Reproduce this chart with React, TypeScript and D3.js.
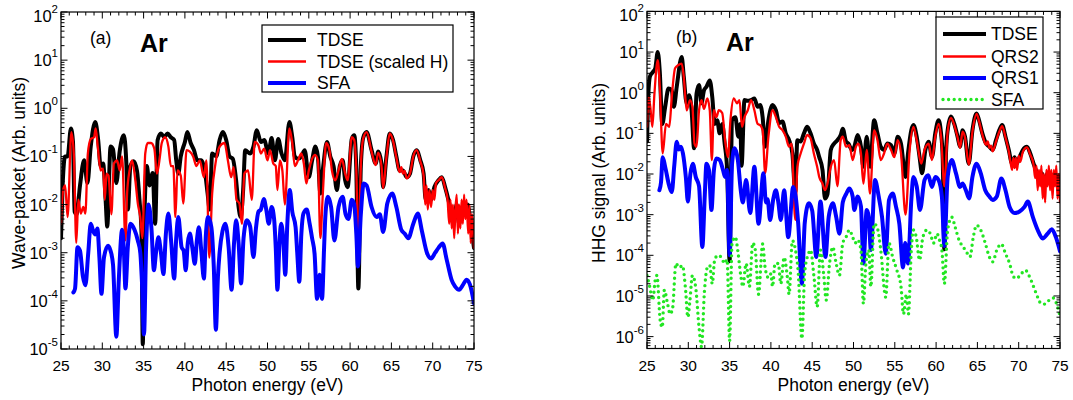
import React from "react";
import * as d3 from "d3";

type Pt = [number, number];

// ---------- axis / tick data ----------
const energyMajor = [25, 30, 35, 40, 45, 50, 55, 60, 65, 70, 75];
const energyMinor = [26, 27, 28, 29, 31, 32, 33, 34, 36, 37, 38, 39, 41, 42, 43, 44, 46, 47, 48, 49, 51, 52, 53, 54, 56, 57, 58, 59, 61, 62, 63, 64, 66, 67, 68, 69, 71, 72, 73, 74];
const decadesA = [2, 1, 0, -1, -2, -3, -4, -5];
const decadesB = [2, 1, 0, -1, -2, -3, -4, -5, -6];
const legendA = ["TDSE", "TDSE (scaled H)", "SFA"];
const legendB = ["TDSE", "QRS2", "QRS1", "SFA"];

// ---------- panel (a) ----------
const tdseA: Pt[] = [
  [25.0, 2.0e-3], [25.2, 2.5e-2], [25.5, 1.0e-1], [25.8, 1.0e-1], [26.2, 3.8e-1], [26.45, 2.0e-1], [26.65, 7.1e-3],
  [26.9, 6.3e-3], [27.3, 2.5e-2], [27.8, 8.3e-2], [28.2, 2.8e-2], [28.6, 1.6e-1], [29.15, 5.2e-1], [29.5, 2.2e-1],
  [29.8, 6.3e-2], [30.1, 7.1e-2], [30.4, 1.26e-2], [30.6, 3.5e-3], [31.0, 1.6e-1], [31.3, 1.4e-1], [31.7, 2.8e-2],
  [32.1, 1.26e-1], [32.6, 2.75e-1], [32.9, 7.9e-2], [33.1, 7.9e-3], [33.4, 6.3e-2], [33.8, 7.9e-2], [34.2, 5.0e-2],
  [34.5, 1.26e-2], [34.75, 2.5e-3], [34.9, 1.26e-5], [35.1, 5.0e-3], [35.4, 6.3e-2], [35.7, 2.5e-2], [36.1, 4.5e-2],
  [36.4, 4.0e-3], [36.7, 2.2e-1], [37.1, 3.0e-1], [37.5, 2.5e-1], [37.9, 3.0e-1], [38.3, 2.5e-1], [38.7, 2.2e-1],
  [38.95, 8.3e-2], [39.2, 4.4e-2], [39.5, 1.0e-1], [40.0, 2.0e-1], [40.3, 3.2e-1], [40.7, 1.9e-1], [41.1, 1.35e-1],
  [41.5, 8.3e-2], [42.0, 8.3e-2], [42.4, 5.1e-2], [42.75, 1.7e-2], [43.0, 7.9e-3], [43.3, 1.15e-1], [43.8, 1.0e-1],
  [44.2, 2.2e-1], [44.6, 3.2e-1], [45.0, 2.2e-1], [45.4, 1.0e-1], [45.8, 8.9e-2], [46.2, 3.2e-2], [46.5, 8.9e-3],
  [46.75, 5.5e-3], [47.05, 2.0e-2], [47.3, 1.35e-1], [47.9, 1.15e-1], [48.3, 1.6e-1], [48.7, 3.5e-1], [49.2, 2.0e-1],
  [49.6, 2.2e-1], [50.1, 1.15e-1], [50.5, 2.4e-1], [50.9, 8.3e-2], [51.3, 2.3e-1], [51.7, 1.15e-1], [52.1, 8.3e-2],
  [52.65, 5.2e-1], [53.0, 2.5e-1], [53.3, 1.0e-1], [53.7, 8.9e-2], [54.1, 1.0e-1], [54.5, 1.35e-1], [55.0, 3.7e-2],
  [55.4, 8.3e-2], [55.8, 1.6e-1], [56.1, 1.0e-1], [56.4, 1.7e-2], [56.75, 6.3e-2], [57.2, 2.0e-1], [57.6, 1.0e-1],
  [58.0, 6.3e-2], [58.4, 2.0e-2], [58.75, 6.3e-2], [59.1, 8.3e-2], [59.4, 3.2e-2], [59.7, 2.3e-2], [60.2, 2.3e-1],
  [60.5, 2.75e-1], [60.75, 5.6e-2], [61.0, 1.8e-4], [61.3, 6.3e-2], [61.6, 2.5e-1], [62.0, 3.2e-1], [62.6, 1.35e-1],
  [63.1, 7.1e-2], [63.4, 1.26e-1], [63.8, 7.1e-2], [64.0, 2.3e-2], [64.4, 1.0e-1], [64.8, 3.0e-1], [65.2, 2.2e-1],
  [65.6, 1.0e-1], [66.0, 5.1e-2], [66.4, 5.1e-2], [66.85, 3.7e-2], [67.25, 4.4e-2], [67.65, 1.0e-1], [68.05, 1.35e-1],
  [68.5, 8.3e-2], [68.9, 4.4e-2], [69.15, 1.26e-2], [69.5, 2.0e-2], [69.8, 1.26e-2], [70.2, 2.3e-2], [70.7, 3.2e-2],
  [71.1, 3.7e-2], [71.5, 2.3e-2], [71.9, 1.26e-2], [72.3, 6.3e-3], [72.6, 5.0e-3], [72.9, 1.0e-2], [73.2, 4.0e-3],
  [73.5, 7.9e-3], [73.8, 6.3e-3], [74.2, 1.0e-2], [74.6, 4.0e-3], [75.0, 1.26e-3],
];

const scaledHA: Pt[] = [
  [25.0, 4.0e-3], [25.25, 2.0e-2], [25.5, 2.5e-2], [25.8, 5.5e-3], [26.25, 3.2e-1], [26.55, 1.15e-1], [26.85, 1.6e-3],
  [27.1, 1.26e-2], [27.4, 6.5e-3], [27.7, 8.9e-3], [27.95, 6.5e-3], [28.25, 1.15e-1], [28.6, 2.3e-1], [29.0, 2.5e-1],
  [29.2, 3.8e-1], [29.45, 1.6e-1], [29.8, 5.1e-2], [30.1, 5.6e-2], [30.3, 1.26e-2], [30.5, 4.4e-2], [30.75, 4.0e-2],
  [31.1, 6.3e-3], [31.4, 7.1e-2], [31.8, 8.3e-2], [32.1, 5.1e-2], [32.4, 1.0e-1], [32.8, 1.8e-3], [33.0, 1.7e-2],
  [33.3, 5.1e-2], [33.6, 8.3e-2], [34.0, 3.2e-2], [34.3, 1.05e-2], [34.6, 5.5e-3], [34.85, 2.0e-3], [35.2, 1.15e-1],
  [35.5, 1.9e-1], [35.9, 1.9e-1], [36.3, 1.45e-1], [36.6, 4.4e-2], [36.9, 7.9e-2], [37.2, 1.9e-1], [37.6, 2.5e-1],
  [38.0, 1.6e-1], [38.3, 6.3e-2], [38.6, 6.3e-2], [38.85, 5.5e-3], [39.1, 5.1e-2], [39.5, 4.0e-2], [39.8, 1.05e-2],
  [40.2, 1.35e-1], [40.6, 1.26e-1], [41.0, 1.0e-1], [41.4, 6.3e-2], [41.8, 8.3e-2], [42.3, 3.7e-2], [42.6, 8.3e-2],
  [42.95, 7.9e-4], [43.3, 1.7e-2], [43.7, 7.1e-2], [44.2, 1.6e-1], [44.8, 1.9e-1], [45.2, 8.3e-2], [45.6, 3.7e-2],
  [45.9, 6.0e-2], [46.25, 1.26e-2], [46.6, 1.05e-2], [46.9, 4.0e-3], [47.2, 4.4e-2], [47.65, 5.1e-2], [48.1, 1.26e-2],
  [48.45, 2.0e-1], [48.9, 1.7e-1], [49.2, 1.15e-1], [49.6, 1.45e-1], [50.0, 8.3e-2], [50.3, 1.35e-1], [50.7, 7.1e-2],
  [51.0, 6.3e-2], [51.2, 2.0e-2], [51.5, 8.3e-2], [51.8, 5.1e-2], [52.1, 1.0e-2], [52.65, 3.8e-1], [53.0, 1.9e-1],
  [53.3, 6.3e-2], [53.7, 8.3e-2], [54.1, 1.15e-1], [54.4, 7.1e-2], [54.7, 2.75e-2], [55.0, 5.1e-2], [55.75, 1.07e-1],
  [56.1, 8.3e-2], [56.4, 2.0e-3], [56.7, 1.7e-2], [57.1, 1.9e-1], [57.5, 1.35e-1], [57.8, 5.1e-2], [58.2, 3.2e-2],
  [58.6, 5.1e-2], [59.0, 8.9e-2], [59.4, 4.4e-2], [59.7, 3.2e-2], [60.2, 2.5e-1], [60.5, 2.2e-1], [60.75, 5.1e-2],
  [61.0, 1.0e-3], [61.3, 6.3e-2], [61.6, 2.4e-1], [62.0, 3.2e-1], [62.6, 1.26e-1], [63.1, 6.6e-2], [63.4, 1.2e-1],
  [63.8, 6.3e-2], [64.0, 2.2e-2], [64.4, 9.5e-2], [64.8, 3.0e-1], [65.2, 2.1e-1], [65.6, 9.5e-2], [66.0, 4.7e-2],
  [66.2, 6.0e-2], [66.4, 4.4e-2], [66.6, 5.0e-2], [66.85, 3.5e-2], [67.25, 4.4e-2], [67.65, 1.0e-1], [68.05, 1.35e-1],
  [68.5, 7.9e-2], [68.9, 4.0e-2], [69.1, 1.0e-2], [69.25, 2.5e-2], [69.4, 7.9e-3], [69.6, 2.0e-2], [69.8, 8.9e-3],
  [70.0, 2.0e-2], [70.2, 1.26e-2], [70.4, 2.8e-2], [70.7, 3.2e-2], [71.1, 3.7e-2], [71.5, 2.2e-2], [71.8, 1.26e-2],
  [72.0, 4.0e-3], [72.15, 1.26e-2], [72.3, 3.2e-3], [72.45, 1.0e-2], [72.6, 2.0e-3], [72.75, 7.9e-3], [72.9, 1.6e-2],
  [73.05, 2.5e-3], [73.2, 1.0e-2], [73.35, 3.2e-3], [73.5, 1.26e-2], [73.65, 4.0e-3], [73.8, 1.6e-2], [73.95, 5.0e-3],
  [74.1, 1.26e-2], [74.3, 2.5e-3], [74.45, 1.0e-2], [74.6, 1.6e-3], [74.75, 6.3e-3], [74.9, 3.2e-3], [75.0, 1.26e-3],
];

const sfaA: Pt[] = [
  [26.5, 1.5e-4], [26.7, 1.8e-4], [27.0, 1.3e-3], [27.3, 1.1e-3], [27.65, 3.2e-4], [27.95, 2.1e-4], [28.3, 1.0e-3],
  [28.6, 4.0e-3], [28.9, 2.8e-3], [29.15, 2.4e-3], [29.4, 3.2e-3], [29.65, 7.9e-4], [29.9, 1.4e-4], [30.2, 7.9e-4],
  [30.7, 1.4e-3], [31.0, 1.1e-3], [31.3, 5.6e-4], [31.7, 1.8e-5], [32.0, 2.8e-4], [32.4, 3.0e-3], [32.6, 1.26e-3],
  [32.8, 1.8e-4], [33.1, 1.4e-3], [33.4, 4.0e-3], [33.9, 3.0e-3], [34.3, 1.8e-3], [34.6, 1.0e-3], [34.8, 2.5e-4],
  [35.05, 2.0e-5], [35.3, 1.26e-3], [35.6, 1.0e-2], [35.95, 3.2e-3], [36.25, 4.3e-4], [36.5, 1.0e-3], [36.8, 2.1e-3],
  [37.1, 1.0e-3], [37.4, 3.6e-4], [37.7, 2.5e-3], [38.0, 6.5e-3], [38.35, 1.6e-3], [38.7, 2.9e-4], [38.95, 2.0e-3],
  [39.2, 5.5e-3], [39.6, 1.3e-3], [39.85, 1.1e-3], [40.1, 4.3e-4], [40.35, 1.6e-3], [40.6, 2.5e-3], [40.9, 1.26e-3],
  [41.2, 5.9e-4], [41.45, 1.8e-3], [41.7, 3.4e-3], [42.0, 1.0e-3], [42.3, 2.9e-4], [42.55, 2.5e-3], [42.8, 5.5e-3],
  [43.2, 3.4e-3], [43.5, 5.0e-4], [43.75, 2.5e-5], [44.0, 3.2e-4], [44.2, 1.0e-3], [44.55, 2.8e-3], [44.9, 4.0e-3],
  [45.3, 1.26e-3], [45.65, 1.7e-4], [45.95, 1.6e-3], [46.2, 4.7e-3], [46.5, 1.6e-3], [46.8, 2.3e-4], [47.1, 2.0e-3],
  [47.5, 4.7e-3], [47.9, 3.5e-3], [48.3, 8.1e-4], [48.6, 3.2e-3], [48.9, 7.1e-3], [49.2, 7.9e-3], [49.55, 1.3e-2],
  [49.85, 7.9e-3], [50.15, 4.0e-3], [50.5, 8.9e-3], [50.8, 5.0e-3], [51.0, 1.26e-3], [51.2, 1.7e-4], [51.45, 1.6e-3],
  [51.65, 4.0e-3], [51.9, 2.0e-3], [52.15, 3.5e-4], [52.4, 4.0e-3], [52.7, 2.0e-2], [53.0, 7.1e-3], [53.4, 3.4e-3],
  [53.6, 1.0e-3], [53.85, 2.5e-4], [54.1, 2.5e-3], [54.35, 6.5e-3], [54.75, 7.9e-3], [55.1, 4.0e-3], [55.4, 2.0e-3],
  [55.7, 9.5e-4], [56.0, 1.1e-4], [56.3, 3.5e-4], [56.6, 1.1e-4], [56.85, 1.26e-3], [57.0, 5.5e-3], [57.3, 1.45e-2],
  [57.7, 8.9e-3], [58.1, 1.8e-3], [58.6, 8.9e-3], [59.1, 1.45e-2], [59.45, 6.3e-3], [59.8, 5.0e-3], [60.2, 1.26e-2],
  [60.5, 1.0e-2], [60.75, 2.5e-3], [60.95, 5.2e-4], [61.3, 6.3e-3], [61.65, 2.75e-2], [62.0, 2.5e-2], [62.6, 8.9e-3],
  [63.2, 5.5e-3], [63.6, 6.3e-3], [64.0, 2.7e-3], [64.5, 1.05e-2], [65.1, 1.7e-2], [65.6, 8.9e-3], [66.2, 3.0e-3],
  [66.6, 2.5e-3], [67.05, 2.0e-3], [67.65, 4.0e-3], [68.2, 6.5e-3], [68.7, 2.8e-3], [69.3, 1.0e-3], [69.8, 7.6e-4],
  [70.3, 1.0e-3], [70.7, 1.26e-3], [71.2, 1.55e-3], [71.7, 7.1e-4], [72.3, 2.7e-4], [72.7, 2.0e-4], [73.2, 1.7e-4],
  [73.7, 2.2e-4], [74.1, 2.75e-4], [74.5, 2.2e-4], [75.0, 8.9e-5],
];

// ---------- panel (b) ----------
const tdseB: Pt[] = [
  [25.0, 6.3e-2], [25.15, 7.9e-1], [25.35, 2.5], [25.7, 3.2], [26.0, 4.0], [26.3, 10], [26.55, 3.2], [26.85, 1.7e-1],
  [27.2, 4.5e-1], [27.6, 1.26], [28.0, 1.15], [28.25, 4.5e-1], [28.6, 1.4], [29.2, 7.6], [29.45, 2.5], [29.8, 5.5e-1],
  [30.1, 8.7e-1], [30.4, 3.7e-1], [30.7, 4.3e-2], [31.0, 9.5e-1], [31.3, 1.55], [31.6, 5.5e-1], [31.9, 1.15],
  [32.2, 1.4], [32.6, 2.0], [32.9, 7.9e-1], [33.2, 1.7e-1], [33.5, 2.1e-1], [33.8, 1.0e-1], [34.1, 1.7e-1],
  [34.4, 5.6e-2], [34.7, 1.26e-2], [35.0, 7.1e-5], [35.3, 2.1e-1], [35.7, 2.5e-1], [36.05, 8.3e-2], [36.3, 1.7e-1],
  [36.45, 1.6e-2], [36.8, 6.6e-1], [37.2, 6.3e-1], [37.6, 6.6e-1], [38.0, 7.2e-1], [38.4, 4.5e-1], [38.7, 5.0e-1],
  [39.0, 2.5e-1], [39.3, 4.7e-2], [39.7, 2.1e-1], [40.2, 5.0e-1], [40.6, 3.7e-1], [41.0, 1.8e-1], [41.4, 1.95e-1],
  [41.8, 1.0e-1], [42.2, 6.8e-2], [42.6, 3.2e-2], [42.95, 3.5e-3], [43.2, 6.8e-2], [43.6, 6.3e-2], [44.0, 1.0e-1],
  [44.4, 1.45e-1], [44.8, 1.0e-1], [45.2, 5.6e-2], [45.6, 3.9e-2], [45.85, 2.6e-2], [46.25, 1.26e-2], [46.55, 2.5e-3],
  [46.85, 3.2e-3], [47.25, 3.9e-2], [47.65, 5.6e-2], [48.05, 6.8e-2], [48.45, 9.1e-2], [48.7, 1.3e-1], [49.1, 6.3e-2],
  [49.4, 5.6e-2], [49.8, 3.9e-2], [50.1, 4.7e-2], [50.5, 9.1e-2], [50.9, 4.7e-2], [51.2, 1.5e-2], [51.6, 8.3e-2],
  [52.0, 1.5e-2], [52.5, 2.1e-1], [52.9, 1.0e-1], [53.3, 4.7e-2], [53.7, 3.9e-2], [54.1, 5.6e-2], [54.55, 5.1e-2],
  [54.95, 3.2e-2], [55.35, 8.3e-2], [55.75, 5.6e-2], [56.3, 8.5e-3], [56.6, 3.2e-2], [57.0, 1.2e-1], [57.25, 1.6e-1],
  [57.65, 8.3e-2], [58.0, 2.6e-2], [58.3, 1.05e-2], [58.7, 3.9e-2], [59.1, 6.2e-2], [59.5, 2.6e-2], [59.9, 1.0e-1],
  [60.3, 2.1e-1], [60.6, 1.0e-1], [60.8, 2.5e-2], [61.0, 1.4e-4], [61.2, 3.2e-2], [61.4, 1.2e-1], [61.8, 2.6e-1],
  [62.2, 1.7e-1], [62.6, 8.3e-2], [62.9, 4.7e-2], [63.2, 1.2e-1], [63.5, 8.3e-2], [63.95, 1.8e-2], [64.4, 1.2e-1],
  [64.9, 3.1e-1], [65.2, 2.1e-1], [65.6, 1.0e-1], [66.05, 5.6e-2], [66.45, 4.7e-2], [66.85, 3.9e-2], [67.25, 6.8e-2],
  [67.65, 1.2e-1], [68.0, 1.6e-1], [68.4, 8.3e-2], [68.8, 3.9e-2], [69.2, 1.8e-2], [69.5, 2.6e-2], [69.75, 1.8e-2],
  [70.1, 2.6e-2], [70.5, 3.9e-2], [71.0, 4.7e-2], [71.4, 3.2e-2], [71.8, 1.8e-2], [72.2, 1.05e-2], [72.5, 6.3e-3],
  [72.8, 1.05e-2], [73.1, 5.0e-3], [73.5, 1.05e-2], [73.9, 6.3e-3], [74.3, 1.0e-2], [74.7, 6.3e-3], [75.0, 4.0e-3],
];

const qrs2B: Pt[] = [
  [25.0, 1.45e-1], [25.2, 7.9e-1], [25.4, 4.5e-1], [25.65, 1.45e-1], [25.9, 9.5e-1], [26.3, 6.3], [26.55, 1.4],
  [26.9, 3.2e-2], [27.3, 1.7e-1], [27.7, 1.45e-1], [28.0, 7.9e-1], [28.4, 4.0], [28.8, 4.8], [29.2, 5.2], [29.45, 2.5],
  [29.8, 3.7e-1], [30.2, 6.6e-1], [30.5, 4.5e-1], [30.75, 5.6e-2], [31.0, 4.7e-2], [31.3, 3.7e-1], [31.6, 6.6e-1],
  [31.9, 4.0e-1], [32.3, 7.2e-1], [32.6, 3.7e-1], [32.85, 2.2e-2], [33.1, 3.7e-1], [33.4, 2.5e-1], [33.7, 3.7e-1],
  [34.1, 3.2e-1], [34.5, 5.6e-2], [34.8, 2.6e-2], [35.1, 2.1e-1], [35.5, 7.2e-1], [35.9, 5.5e-1], [36.2, 6.6e-1],
  [36.5, 1.45e-1], [36.8, 2.5e-1], [37.2, 3.7e-1], [37.6, 6.6e-1], [38.0, 3.7e-1], [38.4, 1.7e-1], [38.7, 1.6e-1],
  [39.0, 1.2e-1], [39.3, 1.05e-2], [39.7, 8.3e-2], [40.2, 3.7e-1], [40.6, 2.5e-1], [41.0, 1.45e-1], [41.4, 1.2e-1],
  [41.8, 8.3e-2], [42.2, 4.7e-2], [42.5, 5.6e-2], [42.95, 7.4e-4], [43.2, 1.5e-2], [43.6, 3.2e-2], [44.0, 5.6e-2],
  [44.4, 9.1e-2], [44.8, 7.6e-2], [45.2, 3.2e-2], [45.6, 1.5e-2], [45.85, 8.5e-3], [46.25, 5.8e-3], [46.55, 4.0e-3],
  [46.85, 5.8e-3], [47.25, 1.5e-2], [47.65, 2.2e-2], [48.05, 5.0e-3], [48.45, 6.8e-2], [48.7, 8.3e-2], [49.1, 4.7e-2],
  [49.5, 5.1e-2], [49.9, 2.2e-2], [50.3, 4.7e-2], [50.6, 5.6e-2], [50.9, 3.2e-2], [51.2, 5.8e-3], [51.6, 3.9e-2],
  [52.0, 3.3e-3], [52.5, 1.2e-1], [52.9, 6.8e-2], [53.3, 2.2e-2], [53.7, 3.2e-2], [54.1, 5.6e-2], [54.55, 3.9e-2],
  [54.95, 2.6e-2], [55.35, 6.8e-2], [55.75, 3.2e-2], [56.3, 1.0e-3], [56.8, 3.9e-2], [57.25, 1.45e-1], [57.65, 6.8e-2],
  [58.2, 1.8e-2], [58.6, 3.9e-2], [59.1, 5.6e-2], [59.5, 2.2e-2], [59.9, 8.3e-2], [60.3, 1.7e-1], [60.6, 8.3e-2],
  [61.0, 5.0e-3], [61.4, 1.1e-1], [61.8, 2.4e-1], [62.2, 1.6e-1], [62.6, 7.9e-2], [62.9, 4.4e-2], [63.2, 1.1e-1],
  [63.5, 7.9e-2], [63.95, 1.7e-2], [64.4, 1.1e-1], [64.9, 3.0e-1], [65.2, 2.0e-1], [65.6, 9.3e-2], [66.05, 5.2e-2],
  [66.25, 6.3e-2], [66.45, 4.4e-2], [66.65, 5.0e-2], [66.85, 3.6e-2], [67.25, 6.3e-2], [67.65, 1.1e-1], [68.0, 1.5e-1],
  [68.4, 7.9e-2], [68.8, 3.6e-2], [69.0, 2.0e-2], [69.2, 1.26e-2], [69.35, 2.5e-2], [69.5, 1.4e-2], [69.65, 2.5e-2],
  [69.8, 1.26e-2], [70.0, 2.8e-2], [70.2, 2.0e-2], [70.5, 3.5e-2], [71.0, 4.5e-2], [71.4, 3.0e-2], [71.8, 1.7e-2],
  [72.0, 7.9e-3], [72.15, 1.6e-2], [72.3, 4.0e-3], [72.45, 1.26e-2], [72.6, 5.0e-3], [72.75, 1.6e-2], [72.9, 2.5e-3],
  [73.05, 1.0e-2], [73.2, 2.0e-3], [73.35, 1.26e-2], [73.5, 5.0e-3], [73.65, 1.6e-2], [73.8, 4.0e-3], [73.95, 1.26e-2],
  [74.1, 2.5e-3], [74.25, 1.26e-2], [74.4, 5.0e-3], [74.55, 1.6e-2], [74.7, 2.5e-3], [74.85, 1.0e-2], [75.0, 2.0e-3],
];

const qrs1B: Pt[] = [
  [26.5, 4.0e-3], [26.7, 6.3e-3], [26.9, 2.6e-2], [27.2, 1.5e-2], [27.7, 5.0e-3], [28.0, 3.6e-3], [28.3, 1.6e-2],
  [28.6, 6.2e-2], [28.85, 4.0e-2], [29.1, 4.7e-2], [29.35, 3.2e-2], [29.7, 8.5e-3], [29.95, 2.1e-3], [30.25, 1.0e-2],
  [30.55, 1.8e-2], [30.9, 8.5e-3], [31.3, 5.0e-3], [31.7, 1.6e-4], [32.0, 3.2e-3], [32.2, 1.8e-2], [32.5, 1.26e-2],
  [32.8, 1.3e-3], [33.1, 1.26e-2], [33.4, 2.4e-2], [33.8, 2.2e-2], [34.2, 1.26e-2], [34.45, 8.5e-3], [34.7, 1.26e-2],
  [35.0, 1.0e-4], [35.3, 1.8e-2], [35.6, 4.3e-2], [36.0, 2.2e-2], [36.35, 4.0e-3], [36.6, 2.0e-3], [37.0, 7.1e-3],
  [37.5, 1.1e-3], [38.0, 1.5e-2], [38.5, 6.0e-4], [39.1, 1.05e-2], [39.4, 2.0e-3], [39.6, 2.4e-3], [39.9, 7.4e-4],
  [40.3, 2.5e-3], [40.6, 4.0e-3], [40.9, 2.0e-3], [41.2, 7.4e-4], [41.6, 4.0e-3], [42.1, 2.8e-4], [42.7, 4.8e-3],
  [43.0, 2.8e-3], [43.3, 6.3e-4], [43.75, 2.0e-5], [44.1, 6.3e-4], [44.6, 1.9e-3], [45.0, 1.26e-3], [45.5, 9.1e-5],
  [46.0, 2.1e-3], [46.6, 9.1e-5], [47.0, 8.9e-4], [47.5, 1.9e-3], [47.9, 8.9e-4], [48.3, 3.4e-4], [48.7, 2.0e-3],
  [49.1, 3.2e-3], [49.5, 4.4e-3], [49.9, 2.8e-3], [50.1, 1.3e-3], [50.5, 2.8e-3], [50.9, 1.6e-3], [51.2, 6.3e-5],
  [51.6, 1.3e-3], [51.85, 8.9e-4], [52.1, 1.35e-4], [52.6, 7.1e-3], [53.05, 2.8e-3], [53.45, 8.9e-4], [53.9, 1.1e-4],
  [54.3, 2.3e-3], [54.75, 3.3e-3], [55.15, 1.55e-3], [55.55, 6.0e-4], [56.0, 5.0e-5], [56.25, 2.0e-4], [56.6, 6.3e-5],
  [57.0, 2.3e-3], [57.25, 8.5e-3], [57.65, 5.0e-3], [58.05, 1.3e-3], [58.6, 7.1e-3], [59.05, 9.3e-3], [59.5, 4.8e-3],
  [59.9, 8.5e-3], [60.3, 7.1e-3], [60.7, 2.8e-3], [61.0, 1.7e-4], [61.4, 8.5e-3], [61.9, 2.2e-2], [62.4, 1.05e-2],
  [62.9, 4.8e-3], [63.2, 5.8e-3], [63.6, 4.0e-3], [64.0, 2.5e-3], [64.4, 8.5e-3], [64.9, 1.8e-2], [65.4, 1.05e-2],
  [65.95, 4.0e-3], [66.45, 2.8e-3], [66.85, 2.3e-3], [67.35, 2.8e-3], [67.9, 7.8e-3], [68.4, 4.0e-3], [68.9, 1.55e-3],
  [69.5, 1.1e-3], [70.1, 1.2e-3], [70.7, 1.55e-3], [71.1, 2.1e-3], [71.7, 8.9e-4], [72.3, 4.2e-4], [72.9, 2.6e-4],
  [73.5, 3.4e-4], [74.0, 4.4e-4], [74.5, 2.8e-4], [75.0, 1.26e-4],
];

const sfaB: Pt[] = [
  [25.0, 3.2e-5], [25.3, 1.8e-5], [25.7, 7.9e-6], [26.0, 2.5e-5], [26.2, 3.2e-5], [26.6, 2.5e-6], [26.85, 1.7e-6],
  [27.1, 1.4e-5], [27.5, 6.3e-6], [27.8, 3.6e-6], [28.1, 5.0e-6], [28.5, 6.3e-5], [28.9, 5.0e-5], [29.3, 5.6e-5],
  [29.65, 1.6e-5], [29.95, 3.0e-6], [30.2, 7.9e-6], [30.5, 3.2e-5], [30.9, 1.6e-5], [31.3, 1.7e-6], [31.6, 5.6e-7],
  [31.95, 1.26e-5], [32.3, 5.0e-5], [32.6, 5.6e-5], [32.9, 2.0e-5], [33.2, 7.9e-5], [33.6, 1.0e-4], [34.0, 8.9e-5],
  [34.4, 6.3e-5], [34.7, 7.9e-5], [35.0, 7.9e-7], [35.3, 2.0e-4], [35.7, 2.8e-4], [36.0, 1.26e-4], [36.35, 3.2e-5],
  [36.6, 1.7e-5], [37.0, 6.3e-5], [37.4, 1.7e-5], [37.8, 2.0e-4], [38.1, 1.4e-4], [38.5, 1.1e-5], [39.0, 1.9e-4],
  [39.3, 5.0e-5], [39.7, 2.8e-5], [40.0, 3.5e-5], [40.2, 1.7e-5], [40.5, 6.3e-5], [40.9, 6.3e-5], [41.2, 2.0e-5],
  [41.6, 8.9e-5], [42.0, 2.8e-5], [42.2, 1.1e-5], [42.6, 2.3e-4], [43.0, 1.26e-4], [43.3, 4.0e-5], [43.75, 8.9e-7],
  [44.1, 4.0e-5], [44.55, 1.1e-4], [44.8, 1.35e-4], [45.2, 3.2e-5], [45.6, 5.4e-6], [46.0, 1.35e-4], [46.4, 3.2e-5],
  [46.7, 7.9e-6], [47.1, 6.3e-5], [47.5, 1.6e-4], [47.9, 6.3e-5], [48.3, 3.2e-5], [48.7, 2.0e-4], [49.1, 2.8e-4],
  [49.5, 4.2e-4], [49.9, 2.8e-4], [50.2, 2.0e-4], [50.5, 2.4e-4], [50.9, 1.35e-4], [51.2, 6.5e-6], [51.5, 6.3e-5],
  [51.85, 1.35e-4], [52.1, 1.7e-5], [52.5, 6.0e-4], [52.95, 4.2e-4], [53.3, 1.35e-4], [53.9, 9.3e-6], [54.3, 2.0e-4],
  [54.75, 8.9e-5], [55.25, 4.3e-5], [55.75, 1.7e-5], [56.05, 3.6e-6], [56.4, 1.1e-5], [56.65, 3.6e-6], [57.0, 1.35e-4],
  [57.25, 4.2e-4], [57.6, 2.8e-4], [58.0, 7.6e-5], [58.4, 2.8e-4], [58.9, 4.2e-4], [59.3, 3.4e-4], [59.7, 2.0e-4],
  [60.1, 3.4e-4], [60.4, 2.4e-4], [60.7, 1.35e-4], [61.0, 2.0e-5], [61.4, 4.2e-4], [61.9, 8.7e-4], [62.3, 5.0e-4],
  [62.8, 2.3e-4], [63.3, 1.6e-4], [63.8, 1.1e-4], [64.1, 9.1e-5], [64.5, 2.8e-4], [64.9, 5.5e-4], [65.4, 4.2e-4],
  [65.95, 2.0e-4], [66.45, 9.1e-5], [66.85, 6.9e-5], [67.35, 1.35e-4], [67.9, 1.9e-4], [68.4, 1.1e-4], [68.9, 6.3e-5],
  [69.35, 3.0e-5], [69.75, 2.7e-5], [70.3, 3.5e-5], [70.8, 4.3e-5], [71.3, 3.0e-5], [71.8, 1.7e-5], [72.3, 9.3e-6],
  [72.7, 6.5e-6], [73.2, 6.3e-6], [73.7, 7.9e-6], [74.2, 8.9e-6], [74.6, 6.3e-6], [75.0, 3.2e-6],
];

// ---------- styling ----------
const FONT = "'Liberation Sans', Arial, Helvetica, sans-serif";
const GREEN = "#22e622";

type Series = { data: Pt[]; color: string; width: number; dotted?: boolean };

type PanelProps = {
  id: string;
  left: number;
  right: number;
  top: number;
  bottom: number;
  yMin: number;
  decades: number[];
  series: Series[];
  yTitle: string;
  yTitleX: number;
  tag: string;
  legendLabels: string[];
  legendBox: { x: number; y: number; w: number; h: number; lineX0: number; lineX1: number; textX: number; rowY: number[] };
};

function Panel(p: PanelProps) {
  const x = d3.scaleLinear().domain([25, 75]).range([p.left, p.right]);
  const y = d3.scaleLog().domain([p.yMin, 100]).range([p.bottom, p.top]);
  const line = d3
    .line<Pt>()
    .x((d) => x(d[0]))
    .y((d) => y(d[1]))
    .curve(d3.curveMonotoneX);

  const minorY: number[] = [];
  const lowExp = Math.floor(Math.log10(p.yMin));
  for (let e = lowExp; e < 2; e++) {
    for (let k = 2; k <= 9; k++) {
      const v = k * Math.pow(10, e);
      if (v >= p.yMin && v <= 100) minorY.push(v);
    }
  }
  const MAJ = 6.5;
  const MIN = 3.5;
  const tickStroke = { stroke: "#000", strokeWidth: 1 };

  return (
    <g>
      <defs>
        <clipPath id={`clip-${p.id}`}>
          <rect x={p.left} y={p.top} width={p.right - p.left} height={p.bottom - p.top} />
        </clipPath>
      </defs>

      {/* curves */}
      <g clipPath={`url(#clip-${p.id})`}>
        {p.series.map((s, i) => (
          <path
            key={i}
            d={line(s.data) || ""}
            fill="none"
            stroke={s.color}
            strokeWidth={s.width}
            strokeLinejoin="round"
            strokeLinecap="round"
            strokeDasharray={s.dotted ? "0 5.6" : undefined}
          />
        ))}
      </g>

      {/* frame */}
      <rect x={p.left} y={p.top} width={p.right - p.left} height={p.bottom - p.top} fill="none" stroke="#000" strokeWidth={1.2} />

      {/* x ticks */}
      {energyMajor.map((t) => (
        <g key={`xM${t}`}>
          <line x1={x(t)} x2={x(t)} y1={p.bottom} y2={p.bottom - MAJ} {...tickStroke} />
          <line x1={x(t)} x2={x(t)} y1={p.top} y2={p.top + MAJ} {...tickStroke} />
          <text x={x(t)} y={p.bottom + 22} textAnchor="middle" fontSize={15.5} fontFamily={FONT} fill="#000">
            {t}
          </text>
        </g>
      ))}
      {energyMinor.map((t) => (
        <g key={`xm${t}`}>
          <line x1={x(t)} x2={x(t)} y1={p.bottom} y2={p.bottom - MIN} {...tickStroke} />
          <line x1={x(t)} x2={x(t)} y1={p.top} y2={p.top + MIN} {...tickStroke} />
        </g>
      ))}

      {/* y ticks */}
      {p.decades.map((e) => {
        const yy = y(Math.pow(10, e));
        const shift = e === 2 ? 3.5 : 0;
        return (
          <g key={`yM${e}`}>
            <line x1={p.left} x2={p.left + MAJ} y1={yy} y2={yy} {...tickStroke} />
            <line x1={p.right} x2={p.right - MAJ} y1={yy} y2={yy} {...tickStroke} />
            <text x={p.left - 3} y={yy + 6 + shift} textAnchor="end" fontSize={16.5} fontFamily={FONT} fill="#000">
              10
              <tspan dy={-9} fontSize={11.5}>
                {e}
              </tspan>
            </text>
          </g>
        );
      })}
      {minorY.map((v, i) => (
        <g key={`ym${i}`}>
          <line x1={p.left} x2={p.left + MIN} y1={y(v)} y2={y(v)} {...tickStroke} />
          <line x1={p.right} x2={p.right - MIN} y1={y(v)} y2={y(v)} {...tickStroke} />
        </g>
      ))}

      {/* axis titles */}
      <text
        x={(p.left + p.right) / 2}
        y={p.bottom + 42}
        textAnchor="middle"
        fontSize={17.5}
        fontFamily={FONT}
        fill="#000"
      >
        Photon energy (eV)
      </text>
      <text
        transform={`translate(${p.yTitleX},173) rotate(-90)`}
        textAnchor="middle"
        fontSize={17.5}
        fontFamily={FONT}
        fill="#000"
      >
        {p.yTitle}
      </text>

      {/* panel tag */}
      <text x={p.left + 29} y={p.top + 32} fontSize={17.5} fontFamily={FONT} fill="#000">
        {p.tag}
      </text>
      <text x={p.left + 79} y={p.top + 39.5} fontSize={25} fontWeight="bold" fontFamily={FONT} fill="#000">
        Ar
      </text>

      {/* legend */}
      <rect
        x={p.legendBox.x}
        y={p.legendBox.y}
        width={p.legendBox.w}
        height={p.legendBox.h}
        fill="#fff"
        stroke="#000"
        strokeWidth={1.2}
      />
      {p.legendLabels.map((lab, i) => {
        const s = p.series[i];
        const ry = p.legendBox.rowY[i];
        return (
          <g key={lab}>
            <line
              x1={p.legendBox.lineX0}
              x2={p.legendBox.lineX1}
              y1={ry}
              y2={ry}
              stroke={s.color}
              strokeWidth={s.width}
              strokeLinecap={s.dotted ? "round" : "butt"}
              strokeDasharray={s.dotted ? "0 5.6" : undefined}
            />
            <text x={p.legendBox.textX} y={ry + 6} fontSize={17.5} fontFamily={FONT} fill="#000">
              {lab}
            </text>
          </g>
        );
      })}
    </g>
  );
}

export default function App() {
  const seriesA: Series[] = [
    { data: tdseA, color: "#000000", width: 4 },
    { data: scaledHA, color: "#ff0000", width: 2.3 },
    { data: sfaA, color: "#0000ff", width: 4 },
  ];
  const seriesB: Series[] = [
    { data: tdseB, color: "#000000", width: 4 },
    { data: qrs2B, color: "#ff0000", width: 2.3 },
    { data: qrs1B, color: "#0000ff", width: 4 },
    { data: sfaB, color: GREEN, width: 3.4, dotted: true },
  ];
  return (
    <svg
      width={1073}
      height={400}
      viewBox="0 0 1073 400"
      style={{ position: "absolute", left: 0, top: 0, background: "#fff" }}
    >
      <rect x={0} y={0} width={1073} height={400} fill="#fff" />
      <Panel
        id="a"
        left={61}
        right={474}
        top={12}
        bottom={349}
        yMin={1e-5}
        decades={decadesA}
        series={seriesA}
        yTitle="Wave-packet (Arb. units)"
        yTitleX={25}
        tag="(a)"
        legendLabels={legendA}
        legendBox={{ x: 262, y: 25, w: 191, h: 67, lineX0: 268, lineX1: 306, textX: 317, rowY: [40, 61.5, 83] }}
      />
      <Panel
        id="b"
        left={647}
        right={1060}
        top={11.4}
        bottom={348.5}
        yMin={5.1e-7}
        decades={decadesB}
        series={seriesB}
        yTitle="HHG signal (Arb. units)"
        yTitleX={605}
        tag="(b)"
        legendLabels={legendB}
        legendBox={{ x: 936, y: 17, w: 107, h: 92, lineX0: 943, lineX1: 986, textX: 991, rowY: [34, 56.5, 78, 99.5] }}
      />
    </svg>
  );
}
